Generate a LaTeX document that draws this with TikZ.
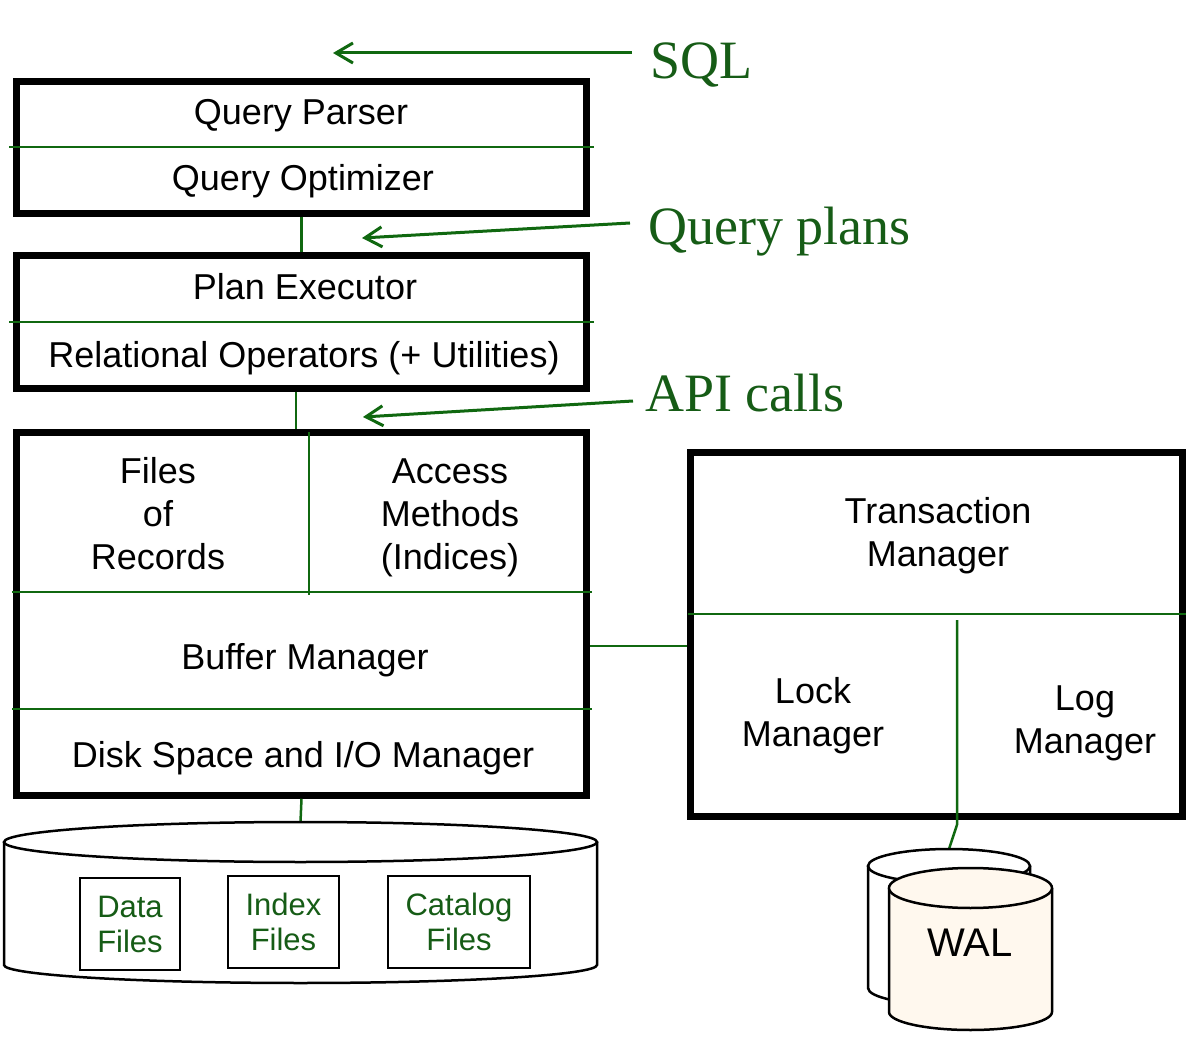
\documentclass[tikz,border=0pt]{standalone}
\usepackage{fontspec}
\setmainfont{Liberation Sans}
\newfontfamily\labelfont{Liberation Serif}
\usetikzlibrary{arrows.meta, positioning}
\definecolor{linegreen}{RGB}{16,104,16}
\definecolor{textgreen}{RGB}{22,92,22}
\definecolor{walfill}{RGB}{255,248,238}

\begin{document}
\begin{tikzpicture}[
    x=1pt, y=1pt,
    frame/.style={rectangle, draw=black, line width=6.5pt, inner sep=0pt},
    part/.style={align=center, inner sep=0pt, font=\fontsize{36}{43}\selectfont},
    filebox/.style={rectangle, draw=black, line width=2pt, align=center, inner sep=0pt, minimum height=92pt, text=textgreen, font=\fontsize{31}{35}\selectfont},
    lbl/.style={inner sep=0pt, anchor=base west, text=textgreen, font=\labelfont\fontsize{54}{60}\selectfont},
    divider/.style={draw=linegreen, line width=2pt},
    link/.style={draw=linegreen, line width=2.5pt},
    flow/.style={-{Straight Barb[length=17pt, width=20pt]}, draw=linegreen, line width=3pt},
    drum/.style={draw=black, line width=2.5pt}
]
\useasboundingbox (0,0) rectangle (1200,-1040);

\node[frame, minimum width=570pt, minimum height=132pt] (qbox) at (301.5,-147.5) {};
\node[frame, minimum width=570pt, minimum height=133pt] (ebox) at (301.5,-322) {};
\node[frame, minimum width=570pt, minimum height=363pt] (sbox) at (301.5,-614) {};
\node[frame, minimum width=492pt, minimum height=364pt] (tbox) at (936.5,-634.5) {};

\node[part] (parser) at (301,-116) {Query Parser};
\node[part] (optimizer) at (303,-181) {Query Optimizer};
\node[part] (executor) at (305,-287) {Plan Executor};
\node[part] (relops) at (304,-358) {Relational Operators (+ Utilities)};
\node[part] (files) at (158,-514) {Files\\of\\Records};
\node[part] (access) at (450,-518) {Access\\Methods\\(Indices)};
\node[part] (bufmgr) at (305,-660) {Buffer Manager};
\node[part] (diskmgr) at (303,-758) {Disk Space and I/O Manager};
\node[part] (txnmgr) at (938,-536) {Transaction\\Manager};
\node[part] (lockmgr) at (813,-716) {Lock\\Manager};
\node[part] (logmgr) at (1085,-723) {Log\\Manager};

\draw[divider] ([xshift=-4pt]qbox.west) -- ([xshift=4pt]qbox.east);
\draw[divider] ([xshift=-4pt]ebox.west) -- ([xshift=4pt]ebox.east);
\draw[divider] (12,-592) -- (592,-592);
\draw[divider] (12,-709) -- (592,-709);
\draw[divider] (309,-432) -- (309,-595);
\draw[divider] (688,-614) -- (1186,-614);

\coordinate (bufport) at (640,-646);
\coordinate (disktop) at (300.5,-822);
\coordinate (logsplit) at (957,-620);
\coordinate (waltop) at (949,-849);

\draw[link] (qbox.south) -- (ebox.north);
\draw[link] ([xshift=-5.5pt]ebox.south) -- ([xshift=-5.5pt]ebox.south |- sbox.north);
\draw[link] (sbox.east |- bufport) -- (tbox.west |- bufport);
\draw[link] (sbox.south) -- (disktop);
\draw[link] (logsplit) -- (logsplit |- tbox.south) -- ++(0,-5) -- (waltop);

\draw[drum, fill=white] (4,-842) -- (4,-965) arc[start angle=180, end angle=360, x radius=296.5, y radius=18] -- (597,-842);
\draw[drum, fill=white] (300.5,-842) ellipse [x radius=296.5, y radius=20];
\node[filebox, minimum width=100pt] (datafiles) at (130,-924) {Data\\Files};
\node[filebox, minimum width=111pt] (indexfiles) at (283.5,-922) {Index\\Files};
\node[filebox, minimum width=142pt] (catfiles) at (459,-922) {Catalog\\Files};

\draw[drum, fill=white] (868,-866) -- (868,-988) arc[start angle=180, end angle=360, x radius=81, y radius=17] -- (1030,-866);
\draw[drum, fill=white] (949,-866) ellipse [x radius=81, y radius=17];
\draw[drum, fill=walfill] (889,-888) -- (889,-1012) arc[start angle=180, end angle=360, x radius=81.5, y radius=18] -- (1052,-888);
\draw[drum, fill=walfill] (970.5,-888) ellipse [x radius=81.5, y radius=20];
\node[font=\fontsize{40}{45}\selectfont] (wal) at (970,-943) {WAL};

\node[lbl] (sql) at (650,-79) {SQL};
\node[lbl] (plans) at (648,-245) {Query plans};
\node[lbl] (api) at (645,-412) {API calls};
\coordinate (sqltip) at (333,-53);
\coordinate (plantip) at (362,-238);
\coordinate (apitip) at (363,-417);

\draw[flow] ([shift={(-18,26)}]sql.base west) -- (sqltip);
\draw[flow] ([shift={(-18,22)}]plans.base west) -- (plantip);
\draw[flow] ([shift={(-12,11)}]api.base west) -- (apitip);

\end{tikzpicture}
\end{document}
